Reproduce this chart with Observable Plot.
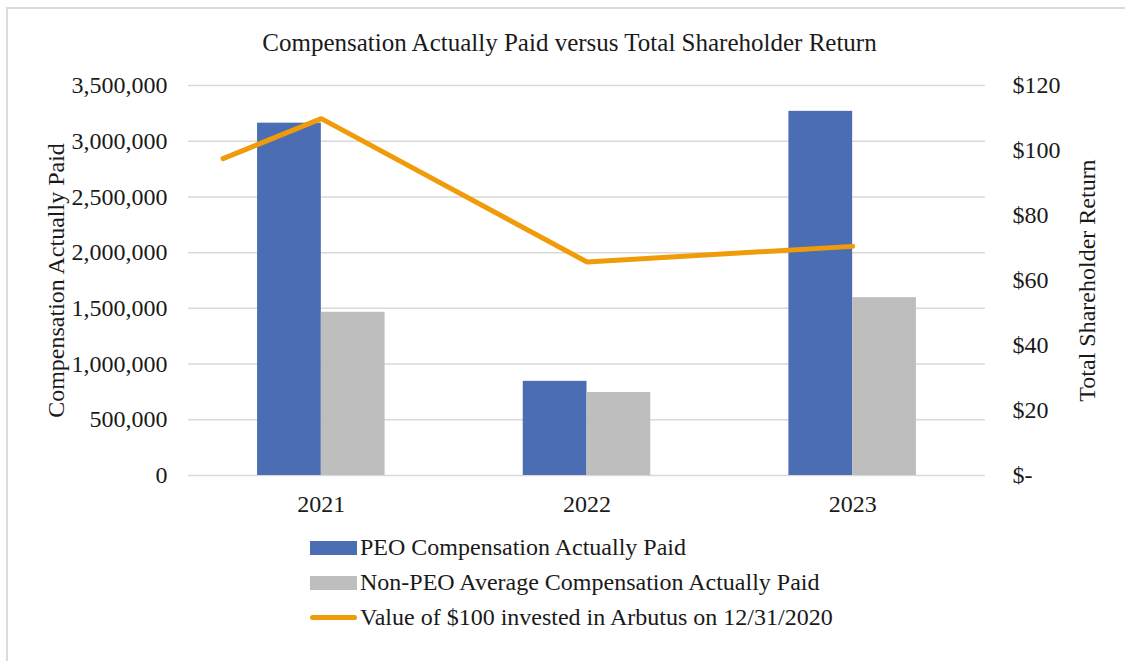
<!DOCTYPE html>
<html><head><meta charset="utf-8">
<script src="https://cdn.jsdelivr.net/npm/d3@7"></script>
<script src="https://cdn.jsdelivr.net/npm/@observablehq/plot@0.6"></script>
<style>
body{margin:0;background:#fff;font-family:"Liberation Serif","Times New Roman",serif;color:#1a1a1a;}
#wrap{position:relative;width:1125px;height:661px;overflow:hidden;background:#fff;}
#frame{position:absolute;left:6px;top:7px;width:1200px;height:800px;border-top:2px solid #dcdcdc;border-left:2px solid #dcdcdc;}
#title{position:absolute;top:29px;left:7px;width:1125px;text-align:center;font-size:25px;line-height:28px;}
#chart{position:absolute;top:60px;left:0;}
#legend{position:absolute;top:530px;left:310px;font-size:24px;}
.row{display:flex;align-items:center;height:35px;}
.sw{width:47px;height:14px;margin-right:3px;}
.ln{width:47px;height:5px;border-radius:2.5px;margin-right:3px;}
</style></head>
<body>
<div id="wrap">
<div id="frame"></div>
<div id="title">Compensation Actually Paid versus Total Shareholder Return</div>
<div id="chart"></div>
<div id="legend"></div>
</div>
<script>
const years = [2021, 2022, 2023];
const peo = [3162000, 845000, 3268000];
const nonPeo = [1465000, 745000, 1596000];
const tsrYears = [2020.63, 2021, 2022, 2023];
const tsr = [97.5, 109.8, 65.7, 70.5];
const leftTicks = [0, 500000, 1000000, 1500000, 2000000, 2500000, 3000000, 3500000];
const rightTicks = [0, 20, 40, 60, 80, 100, 120];
const seriesNames = ["PEO Compensation Actually Paid", "Non-PEO Average Compensation Actually Paid", "Value of $100 invested in Arbutus on 12/31/2020"];
const colors = ["#4a6db3", "#bdbebd", "#f09c0a"];

const k = 3500000 / 120;
const peoData = years.map((y, i) => ({year: y, value: peo[i]}));
const nonData = years.map((y, i) => ({year: y, value: nonPeo[i]}));
const tsrData = tsrYears.map((y, i) => ({year: y, value: tsr[i]}));
const font = '"Liberation Serif","Times New Roman",serif';

const chart = Plot.plot({
  width: 1125, height: 465,
  marginLeft: 188, marginRight: 140, marginTop: 25, marginBottom: 50,
  x: {type: "linear", domain: [2020.5, 2023.5]},
  y: {domain: [0, 3500000]},
  style: {fontFamily: font, fontSize: "24px", color: "#1a1a1a", background: "transparent"},
  marks: [
    Plot.gridY(leftTicks, {stroke: "#d9d9d9", strokeOpacity: 1, strokeWidth: 1.5}),
    Plot.rectY(peoData, {x1: d => d.year - 0.24, x2: d => d.year, y1: () => 0, y2: "value", fill: colors[0]}),
    Plot.rectY(nonData, {x1: d => d.year, x2: d => d.year + 0.24, y1: () => 0, y2: "value", fill: colors[1]}),
    Plot.line(tsrData, {x: "year", y: d => d.value * k, stroke: colors[2], strokeWidth: 5, strokeLinejoin: "miter"}),
    Plot.axisY({ticks: leftTicks, tickSize: 0, tickPadding: 21, tickFormat: d3.format(","), label: null, fontSize: 24}),
    Plot.axisY({anchor: "right", ticks: rightTicks.map(v => v * k), tickSize: 0, tickPadding: 27,
      tickFormat: d => { const v = Math.round(d / k); return v === 0 ? "$-" : "$" + v; }, label: null, fontSize: 24}),
    Plot.axisX({ticks: years, tickSize: 0, tickPadding: 19, tickFormat: d => String(d), label: null, fontSize: 24}),
    Plot.text(["Compensation Actually Paid"], {frameAnchor: "left", dx: -132, rotate: -90, textAnchor: "middle", lineAnchor: "middle", fontSize: 24, fill: "#1a1a1a"}),
    Plot.text(["Total Shareholder Return"], {frameAnchor: "right", dx: 102, rotate: -90, textAnchor: "middle", lineAnchor: "middle", fontSize: 24, fill: "#1a1a1a"})
  ]
});
document.getElementById("chart").appendChild(chart);

const legend = document.getElementById("legend");
seriesNames.forEach((name, i) => {
  const row = document.createElement("div");
  row.className = "row";
  const sw = document.createElement("div");
  sw.className = i < 2 ? "sw" : "ln";
  sw.style.background = colors[i];
  const t = document.createElement("span");
  t.textContent = name;
  row.appendChild(sw); row.appendChild(t);
  legend.appendChild(row);
});
</script>
</body></html>
